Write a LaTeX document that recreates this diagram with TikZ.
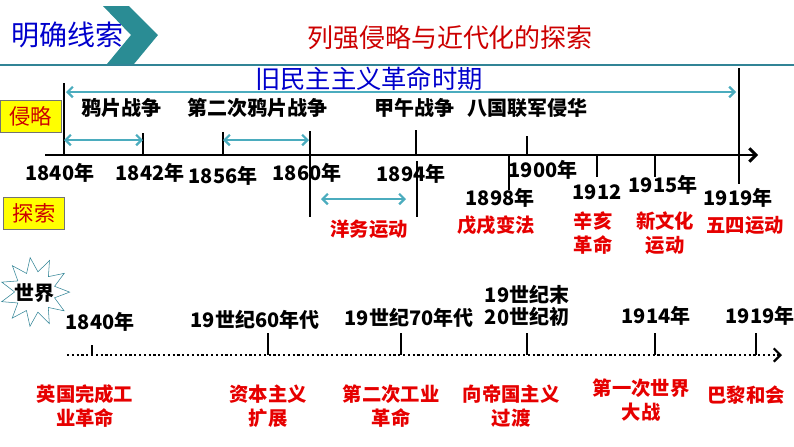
\documentclass[tikz,border=0pt]{standalone}
\usepackage{fontspec}
\setmainfont{Noto Sans CJK SC}
\usetikzlibrary{arrows.meta,shapes.geometric}
\definecolor{lineteal}{RGB}{49,132,150}
\definecolor{spanteal}{RGB}{75,172,190}
\definecolor{chevteal}{RGB}{42,140,148}
\definecolor{evtred}{RGB}{230,0,0}
\definecolor{headred}{RGB}{204,0,0}
\definecolor{inkblue}{RGB}{0,0,204}
\definecolor{tagyellow}{RGB}{255,255,0}

\begin{document}
\begin{tikzpicture}[x=0.75pt,y=-0.75pt,
    evt/.style={font=\bfseries\fontsize{15}{17}\selectfont},
    yr/.style={font=\bfseries\fontsize{15}{17}\selectfont},
    hap/.style={text=evtred, font=\bfseries\fontsize{14.5}{18}\selectfont, align=center},
    tagbox/.style={draw=black!55, fill=tagyellow, text=headred, font=\fontsize{16}{18}\selectfont, minimum width=46pt, minimum height=24pt, inner sep=0pt},
    span/.style={draw=spanteal, line width=1.6pt, {Straight Barb[length=4pt,width=8pt]}-{Straight Barb[length=4pt,width=8pt]}},
    tmark/.style={line width=1.8pt},
    axis/.style={line width=2.2pt, -{Straight Barb[length=5pt,width=10pt]}},
    dotaxis/.style={line width=1.6pt, dotted, -{Straight Barb[length=5pt,width=10pt]}}]
    \useasboundingbox (0,0) rectangle (794,447);

    % heading
    \fill[chevteal] (103,6) -- (129,6) -- (158,35) -- (134,64) -- (107,64) -- (131,35) -- cycle;
    \draw[lineteal, line width=2pt] (0,65) -- (794,65);
    \node[text=inkblue, font=\fontsize{21}{23}\selectfont] (clue) at (68,35) {明确线索};
    \node[text=headred, font=\fontsize{19.5}{22}\selectfont] (title) at (450,38) {列强侵略与近代化的探索};

    % period
    \node[text=inkblue, font=\fontsize{19}{21}\selectfont] (period) at (369,79) {旧民主主义革命时期};
    \coordinate (p0) at (66,92);
    \coordinate (p1) at (736,92);
    \draw[span] (p0) -- (p1);

    % china axis
    \coordinate (a0) at (45,155);
    \coordinate (a1) at (758,155);
    \draw[axis] (a0) -- (a1);
    \draw[tmark] (64,83) -- (64,155);
    \draw[tmark] (739,68) -- (739,184);
    \draw[tmark] (310,131) -- (310,217);
    \draw[tmark] (417,161) -- (417,217);
    \foreach \x/\y in {143/133, 223/132, 416/130, 527/136}
      \draw[tmark] (\x,\y) -- (\x,155);
    \foreach \x/\y in {509/190, 597/177, 655/177}
      \draw[tmark] (\x,155) -- (\x,\y);

    \node[tagbox] (qinlue) at (31,116) {侵略};
    \node[tagbox] (tansuo) at (34,213) {探索};

    \node[evt] (opium) at (121,108) {鸦片战争};
    \node[evt] (opium2) at (257,108) {第二次鸦片战争};
    \node[evt] (jiawu) at (414,108) {甲午战争};
    \node[evt] (baguo) at (527,108) {八国联军侵华};

    \coordinate (s0) at (64,140);
    \coordinate (s1) at (143,140);
    \coordinate (s2) at (223,140);
    \coordinate (s3) at (309,140);
    \coordinate (s4) at (321,199);
    \coordinate (s5) at (406,199);
    \draw[span] (s0) -- (s1);
    \draw[span] (s2) -- (s3);
    \draw[span] (s4) -- (s5);

    \node[yr] (y1840) at (60,173) {1840年};
    \node[yr] (y1842) at (150,173) {1842年};
    \node[yr] (y1856) at (223,176) {1856年};
    \node[yr] (y1860) at (307,173) {1860年};
    \node[yr] (y1894) at (411,174) {1894年};
    \node[yr] (y1900) at (543,170) {1900年};
    \node[yr] (y1898) at (500,198) {1898年};
    \node[yr] (y1912) at (597,192) {1912};
    \node[yr] (y1915) at (663,185) {1915年};
    \node[yr] (y1919) at (738,198) {1919年};

    \node[hap] (yangwu) at (369,229) {洋务运动};
    \node[hap] (wuxu) at (496,225) {戊戌变法};
    \node[hap] (xinhai) at (593,233) {辛亥\\革命};
    \node[hap] (xinwen) at (665,233) {新文化\\运动};
    \node[hap] (wusi) at (745,225) {五四运动};

    % world axis
    \node[star, star points=11, star point ratio=1.7, draw=lineteal, fill=white, minimum size=52pt, inner sep=0pt, rotate=8] (burst) at (35,292) {};
    \node[font=\bfseries\fontsize{15}{17}\selectfont] (world) at (34,293) {世界};

    \coordinate (w0) at (67,355);
    \coordinate (w1) at (782,355);
    \draw[dotaxis] (w0) -- (w1);
    \draw[tmark] (92,345) -- (92,355);
    \foreach \x in {268, 401, 527, 655, 756}
      \draw[tmark] (\x,333) -- (\x,355);

    \node[yr] (w1840) at (100,322) {1840年};
    \node[yr] (w60s) at (255,320) {19世纪60年代};
    \node[yr] (w70s) at (409,318) {19世纪70年代};
    \node[yr, align=center] (wturn) at (527,306) {19世纪末\\20世纪初};
    \node[yr] (w1914) at (656,316) {1914年};
    \node[yr] (w1919) at (760,316) {1919年};

    \node[hap] (gongye) at (85,406) {英国完成工\\业革命};
    \node[hap] (kuozhan) at (268,406) {资本主义\\扩展};
    \node[hap] (gongye2) at (391,406) {第二次工业\\革命};
    \node[hap] (diguo) at (511,406) {向帝国主义\\过渡};
    \node[hap] (yizhan) at (641,400) {第一次世界\\大战};
    \node[hap] (bali) at (746,395) {巴黎和会};
  \end{tikzpicture}
\end{document}
